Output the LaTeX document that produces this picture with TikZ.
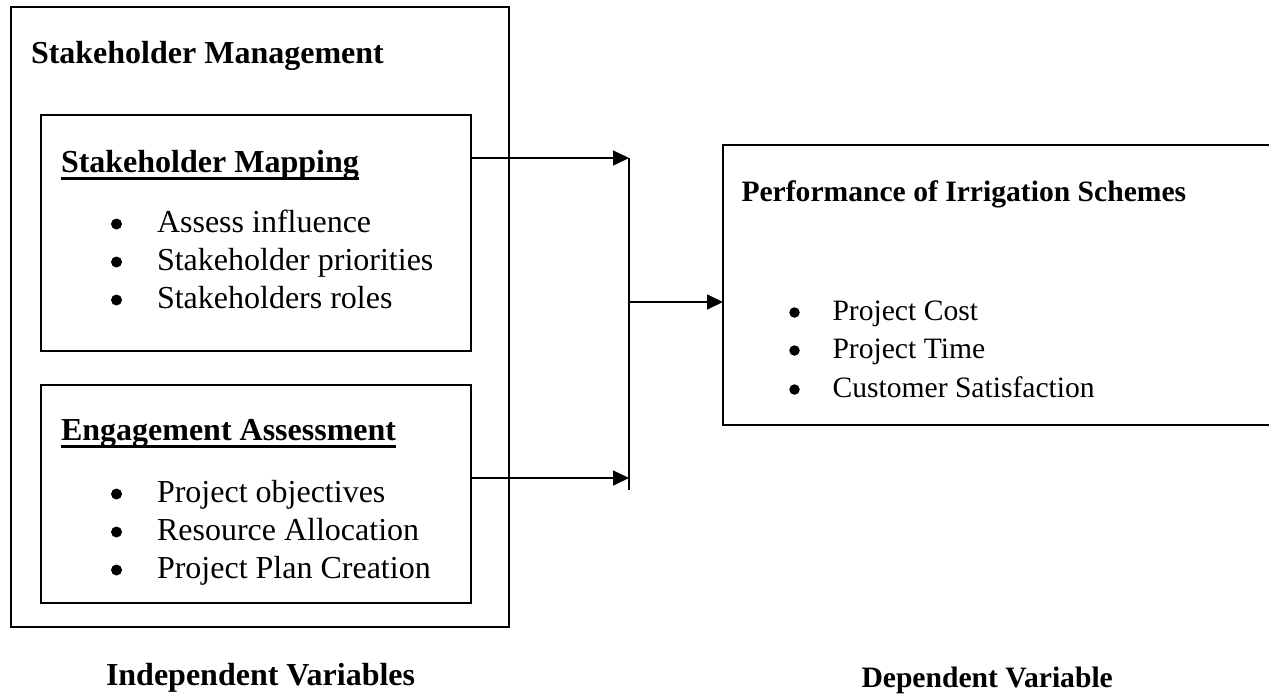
\documentclass[tikz,border=0pt]{standalone}
\usepackage{fontspec}
\setmainfont{Liberation Serif}
\usetikzlibrary{arrows.meta}
\begin{document}
\begin{tikzpicture}[x=1pt,y=-1pt,
  frame/.style={draw,line width=1.6pt,inner sep=0pt,outer sep=0pt,anchor=north west},
  ln/.style={line width=1.6pt},
  arr/.style={line width=1.6pt,-{Triangle[length=16pt,width=15pt]}},
  txt/.style={inner sep=0pt,outer sep=0pt,anchor=base west,font=\fontsize{32}{38}\selectfont},
  btxt/.style={txt,font=\fontsize{32}{38}\selectfont\bfseries},
  rtxt/.style={txt,font=\fontsize{29.6}{38}\selectfont},
  rbtxt/.style={txt,font=\fontsize{29.6}{38}\selectfont\bfseries},
  dot/.style={circle,fill,inner sep=0pt,outer sep=0pt,minimum size=11pt},
  rdot/.style={dot,minimum size=10.5pt}]
\useasboundingbox (0,0) rectangle (1269,694);
% boxes
\node[frame,minimum width=498pt,minimum height=620pt] (outer) at (11,7) {};
\node[frame,minimum width=430pt,minimum height=236pt] (map) at (41,115) {};
\node[frame,minimum width=430pt,minimum height=218pt] (eng) at (41,385) {};
\node[inner sep=0pt,outer sep=0pt,anchor=north west,minimum width=546pt,minimum height=280pt] (perf) at (723,145) {};
\draw[ln] (perf.north east) -- (perf.north west) -- (perf.south west) -- (perf.south east);
% left texts
\node[btxt] (sm) at (31,63) {Stakeholder Management};
\node[btxt] (mt) at (61,172) {Stakeholder Mapping};
\draw[line width=2.4pt] ([yshift=-6.3pt]mt.base west) -- ([yshift=-6.3pt]mt.base east);
\node[dot] (b1) at (116.5,224) {};
\node[txt] (t1) at (157,232) {Assess influence};
\node[dot] (b2) at (116.5,262) {};
\node[txt] (t2) at (157,270) {Stakeholder priorities};
\node[dot] (b3) at (116.5,300) {};
\node[txt] (t3) at (157,308) {Stakeholders roles};
\node[btxt] (et) at (61,440) {Engagement Assessment};
\draw[line width=2.4pt] ([yshift=-6.3pt]et.base west) -- ([yshift=-6.3pt]et.base east);
\node[dot] (b4) at (116.5,494) {};
\node[txt] (t4) at (157,502) {Project objectives};
\node[dot] (b5) at (116.5,532) {};
\node[txt] (t5) at (157,540) {Resource Allocation};
\node[dot] (b6) at (116.5,570) {};
\node[txt] (t6) at (157,578) {Project Plan Creation};
% right texts
\node[rbtxt] (pt) at (741.5,201) {Performance of Irrigation Schemes};
\node[rdot] (b7) at (794.5,312.5) {};
\node[rtxt] (t7) at (832.5,320) {Project Cost};
\node[rdot] (b8) at (794.5,350.5) {};
\node[rtxt] (t8) at (832.5,358) {Project Time};
\node[rdot] (b9) at (794.5,389.5) {};
\node[rtxt] (t9) at (832.5,397) {Customer Satisfaction};
% captions
\node[btxt] (iv) at (106,685) {Independent Variables};
\node[rbtxt] (dv) at (861.5,687) {Dependent Variable};
% connectors
\coordinate (j1) at (629,158);
\coordinate (j2) at (629,478);
\coordinate (jm) at (629,302);
\coordinate (jend) at (629,490);
\draw[arr] (map.east |- j1) -- (j1);
\draw[arr] (eng.east |- j2) -- (j2);
\draw[ln] (j1) -- (jend);
\draw[arr] (jm) -- (perf.west |- jm);
\end{tikzpicture}
\end{document}
